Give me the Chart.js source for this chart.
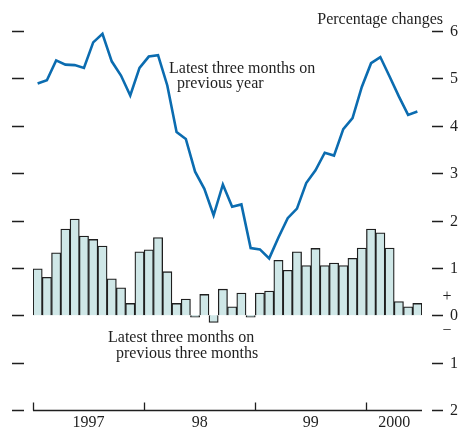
<!DOCTYPE html>
<html>
<head>
<meta charset="utf-8">
<script src="https://cdn.jsdelivr.net/npm/chart.js@4"></script>
<style>
  html, body { margin: 0; padding: 0; background: #fff; }
  canvas { display: block; }
</style>
</head>
<body>
<canvas id="chart" width="463" height="428"></canvas>
<script>
// Monthly data, Jan 1997 - Jun 2000
const years = ["1997", "98", "99", "2000"];
const yearStart = [0, 12, 24, 36];
const yearMonths = [12, 12, 12, 6];

// Latest three months on previous three months (bars)
const barValues = [
  0.98, 0.80, 1.32, 1.82, 2.03, 1.67, 1.60, 1.46, 0.77, 0.58, 0.25, 1.34,
  1.38, 1.64, 0.92, 0.25, 0.34, -0.04, 0.44, -0.15, 0.55, 0.18, 0.47, -0.04,
  0.47, 0.51, 1.16, 0.95, 1.34, 1.05, 1.41, 1.05, 1.10, 1.05, 1.20, 1.42,
  1.82, 1.74, 1.42, 0.29, 0.18, 0.25
];

// Latest three months on previous year (line)
const lineValues = [
  4.89, 4.96, 5.38, 5.29, 5.28, 5.22, 5.76, 5.94, 5.36, 5.06, 4.64, 5.22,
  5.46, 5.49, 4.85, 3.87, 3.72, 3.03, 2.67, 2.11, 2.76, 2.29, 2.34, 1.42,
  1.39, 1.20, 1.64, 2.05, 2.25, 2.79, 3.06, 3.43, 3.37, 3.93, 4.16, 4.82,
  5.32, 5.45, 5.04, 4.62, 4.23, 4.30
];

// Right-hand tick labels (values below zero shown without sign)
const tickValues = [6, 5, 4, 3, 2, 1, 0, -1, -2];
const tickLabels = ["6", "5", "4", "3", "2", "1", "0", "1", "2"];

// month categories
const months = [];
years.forEach((y, i) => {
  for (let m = 0; m < yearMonths[i]; m++) months.push(y + "-" + (m + 1));
});

const FONT = '"Liberation Serif", "Times New Roman", serif';
const INK = "#1f1f1f";

// axes, ticks and texts
const decorations = {
  id: "decorations",
  afterDraw(chart) {
    const ctx = chart.ctx;
    const xs = chart.scales.x;
    const ys = chart.scales.y;
    const area = chart.chartArea;
    ctx.save();
    ctx.strokeStyle = INK;
    ctx.fillStyle = INK;
    ctx.lineWidth = 1.3;

    // tick dashes left and right
    ctx.font = "16px " + FONT;
    ctx.textBaseline = "middle";
    ctx.textAlign = "left";
    tickValues.forEach((v, i) => {
      const y = Math.round(ys.getPixelForValue(v)) + 0.5;
      ctx.beginPath();
      ctx.moveTo(12, y); ctx.lineTo(24, y);
      ctx.moveTo(432, y); ctx.lineTo(443, y);
      ctx.stroke();
      ctx.fillText(tickLabels[i], 450, y);
    });

    // + / - signs around zero
    ctx.textAlign = "center";
    const y0 = ys.getPixelForValue(0);
    ctx.fillText("+", 447, y0 - 18);
    ctx.fillText("\u2212", 447, y0 + 16);

    // x axis line with year ticks
    const yb = Math.round(ys.getPixelForValue(-2)) + 0.5;
    ctx.beginPath();
    ctx.moveTo(area.left, yb);
    ctx.lineTo(area.right, yb);
    ctx.stroke();
    const half = (xs.getPixelForValue(1) - xs.getPixelForValue(0)) / 2;
    ctx.textBaseline = "alphabetic";
    years.forEach((label, i) => {
      const x0 = Math.round(xs.getPixelForValue(yearStart[i]) - half) + 0.5;
      ctx.beginPath();
      ctx.moveTo(x0, yb);
      ctx.lineTo(x0, yb - 8);
      ctx.stroke();
      const first = xs.getPixelForValue(yearStart[i]);
      const last = xs.getPixelForValue(yearStart[i] + yearMonths[i] - 1);
      ctx.fillText(label, (first + last) / 2, 427);
    });

    // annotations
    ctx.textAlign = "left";
    ctx.fillText("Latest three months on", 169, 73);
    ctx.fillText("previous year", 177, 88);
    ctx.fillText("Latest three months on", 108, 342);
    ctx.fillText("previous three months", 116, 358);
    ctx.textAlign = "right";
    ctx.fillText("Percentage changes", 443, 24);
    ctx.restore();
  }
};

new Chart(document.getElementById("chart"), {
  data: {
    labels: months,
    datasets: [
      {
        type: "line",
        data: lineValues,
        borderColor: "#0b6cb0",
        borderWidth: 2.6,
        pointRadius: 0,
        tension: 0,
        order: 0,
      },
      {
        type: "bar",
        data: barValues,
        backgroundColor: "#cfe7e7",
        borderColor: INK,
        borderWidth: 1.3,
        barPercentage: 1,
        categoryPercentage: 1,
        order: 1,
      },
    ],
  },
  options: {
    responsive: false,
    animation: false,
    layout: { padding: { left: 33, right: 41, top: 31, bottom: 18 } },
    plugins: { legend: { display: false }, tooltip: { enabled: false } },
    scales: {
      x: { display: false, offset: true },
      y: { display: false, min: -2, max: 6 },
    },
  },
  plugins: [decorations],
});
</script>
</body>
</html>
